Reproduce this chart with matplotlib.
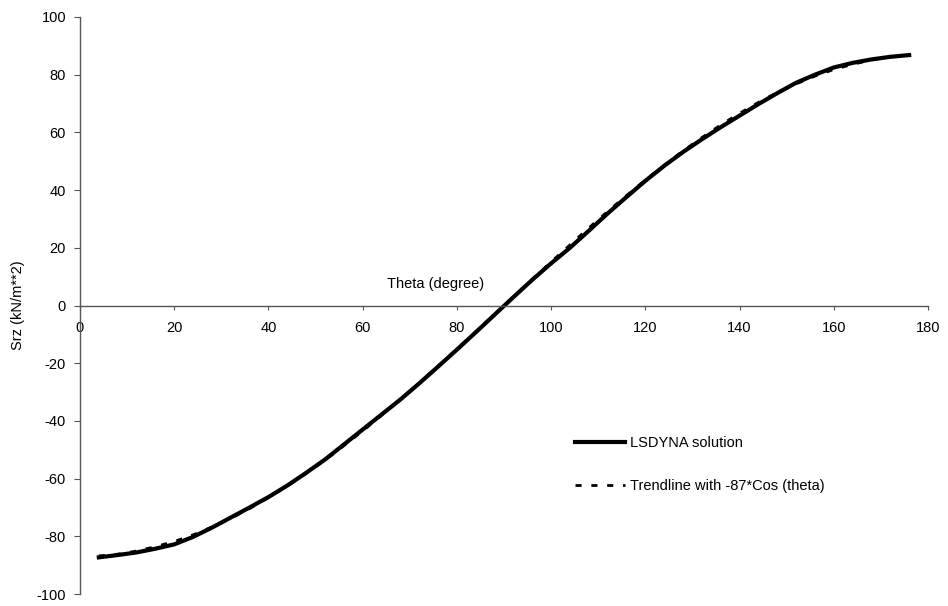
import matplotlib.pyplot as plt

# values
theta = [4, 8, 12, 16, 20, 24, 28, 32, 36, 40, 44, 48, 52, 56, 60, 64, 68, 72,
         76, 80, 84, 88, 92, 96, 100, 104, 108, 112, 116, 120, 124, 128, 132,
         136, 140, 144, 148, 152, 156, 160, 164, 168, 172, 176]
lsdyna = [-87.3, -86.5, -85.6, -84.3, -82.8, -80.2, -77.0, -73.5, -70.0, -66.4,
          -62.4, -58.0, -53.4, -48.2, -43.0, -37.8, -32.6, -27.0, -21.2, -15.3,
          -9.3, -3.2, 2.9, 8.9, 14.6, 20.0, 25.9, 31.9, 37.6, 43.2, 48.4, 53.2,
          57.6, 61.8, 65.8, 69.8, 73.6, 77.2, 80.0, 82.5, 84.1, 85.3, 86.2, 86.8]
trend = [-86.8, -86.2, -85.1, -83.6, -81.8, -79.5, -76.8, -73.8, -70.4, -66.6,
         -62.6, -58.2, -53.6, -48.6, -43.5, -38.1, -32.6, -26.9, -21.0, -15.1,
         -9.1, -3.0, 3.0, 9.1, 15.1, 21.0, 26.9, 32.6, 38.1, 43.5, 48.6, 53.6,
         58.2, 62.6, 66.6, 70.4, 73.8, 76.8, 79.5, 81.8, 83.6, 85.1, 86.2, 86.8]

x_ticks = [0, 20, 40, 60, 80, 100, 120, 140, 160, 180]
y_ticks = [-100, -80, -60, -40, -20, 0, 20, 40, 60, 80, 100]

plt.rcParams['font.family'] = ['Liberation Sans', 'DejaVu Sans']
plt.rcParams['font.size'] = 10.5
plt.rcParams['axes.unicode_minus'] = False

W, H = 948, 606
fig = plt.figure(figsize=(W / 100, H / 100), dpi=100)
ax = fig.add_axes([80 / W, 1 - 594 / H, 848 / W, 577 / H])

ax.plot(theta, trend, color='black', lw=2.0, ls=(0, (2.2, 3.5)),
        label='Trendline with -87*Cos (theta)')
ax.plot(theta, lsdyna, color='black', lw=3, label='LSDYNA solution')

ax.set_xlim(0, 180)
ax.set_ylim(-100, 100)
ax.set_xticks(x_ticks)
ax.set_yticks(y_ticks)

ax.spines['top'].set_visible(False)
ax.spines['right'].set_visible(False)
ax.spines['bottom'].set_position(('data', 0))
for s in ('left', 'bottom'):
    ax.spines[s].set_color('#555555')
    ax.spines[s].set_linewidth(1.0)

ax.tick_params(axis='x', direction='out', length=3, pad=8, color='#555555')
ax.tick_params(axis='y', direction='out', length=4, pad=6, color='#555555')

ax.text(75.5, 7.6, 'Theta (degree)', ha='center', va='center')
fig.text(18 / W, 1 - 305 / H, 'Srz (kN/m**2)', rotation=90,
         ha='center', va='center')

# legend order: solid first, dashed second
handles, labels = ax.get_legend_handles_labels()
ax.legend(handles[::-1], labels[::-1], loc='upper left',
          bbox_to_anchor=(575 / W, 1 - 436 / H),
          bbox_transform=fig.transFigure, frameon=False, borderpad=0,
          borderaxespad=0, handlelength=3.4, handletextpad=0.4,
          labelspacing=2.0)

fig.savefig('out.png', dpi=100)
